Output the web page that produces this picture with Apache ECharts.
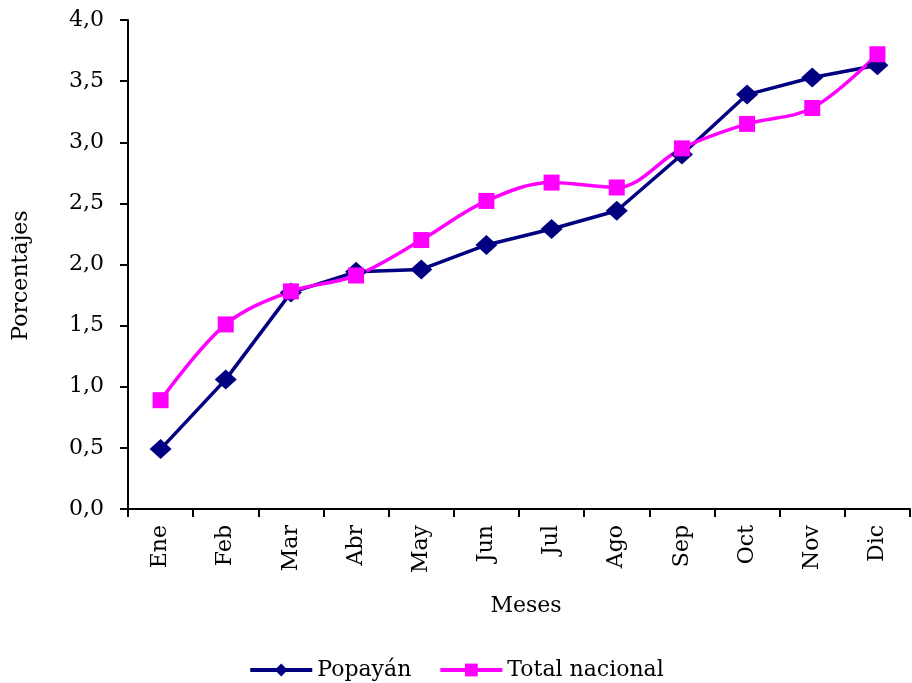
<!DOCTYPE html>
<html><head><meta charset="utf-8">
<script src="https://cdn.jsdelivr.net/npm/echarts@6/dist/echarts.min.js"></script>
<style>html,body{margin:0;padding:0;background:#fff}#c{width:912px;height:683px}</style>
</head><body><div id="c"></div>
<script>
const meses = ["Ene","Feb","Mar","Abr","May","Jun","Jul","Ago","Sep","Oct","Nov","Dic"];
const popayan = [0.49,1.06,1.77,1.94,1.96,2.16,2.29,2.44,2.90,3.39,3.53,3.63];
const totalNacional = [0.89,1.51,1.78,1.91,2.20,2.52,2.67,2.63,2.95,3.15,3.28,3.72];
const F = "DejaVu Serif";
const FS = 22;
const chart = echarts.init(document.getElementById('c'));
chart.setOption({
  animation:false,
  backgroundColor:'#fff',
  textStyle:{fontFamily:F,color:'#000'},
  grid:{left:128,top:20,right:2,bottom:174,containLabel:false},
  legend:{top:654,left:'center',itemWidth:62,itemHeight:16,itemGap:27,
    lineStyle:{width:4},
    textStyle:{fontFamily:F,fontSize:FS,color:'#000'},
    data:['Popayán','Total nacional']},
  xAxis:{type:'category',data:meses,boundaryGap:true,
    name:'Meses',nameLocation:'middle',nameGap:86,
    nameTextStyle:{fontFamily:F,fontSize:FS,color:'#000',padding:[0,0,0,14]},
    axisLine:{lineStyle:{color:'#000',width:2}},
    axisTick:{show:true,length:8,lineStyle:{color:'#000',width:2}},
    axisLabel:{rotate:90,fontFamily:F,fontSize:FS,color:'#000',margin:16,interval:0},
    splitLine:{show:false}},
  yAxis:{type:'value',min:0,max:4,interval:0.5,
    name:'Porcentajes',nameLocation:'middle',nameGap:96,
    nameTextStyle:{fontFamily:F,fontSize:FS,color:'#000',padding:[0,22,0,0]},
    axisLine:{show:true,lineStyle:{color:'#000',width:2}},
    axisTick:{show:true,length:8,lineStyle:{color:'#000',width:2}},
    axisLabel:{fontFamily:F,fontSize:FS,color:'#000',margin:24,
      formatter:v=>v.toFixed(1).replace('.',',')},
    splitLine:{show:false}},
  series:[
    {name:'Popayán',type:'line',data:popayan,smooth:false,
      symbol:'diamond',symbolSize:[22,20],
      lineStyle:{color:'#000080',width:3.5},itemStyle:{color:'#000080'}},
    {name:'Total nacional',type:'line',data:totalNacional,smooth:0.35,
      symbol:'rect',symbolSize:16,
      lineStyle:{color:'#FF00FF',width:3.5},itemStyle:{color:'#FF00FF'}}
  ]
});
</script></body></html>
